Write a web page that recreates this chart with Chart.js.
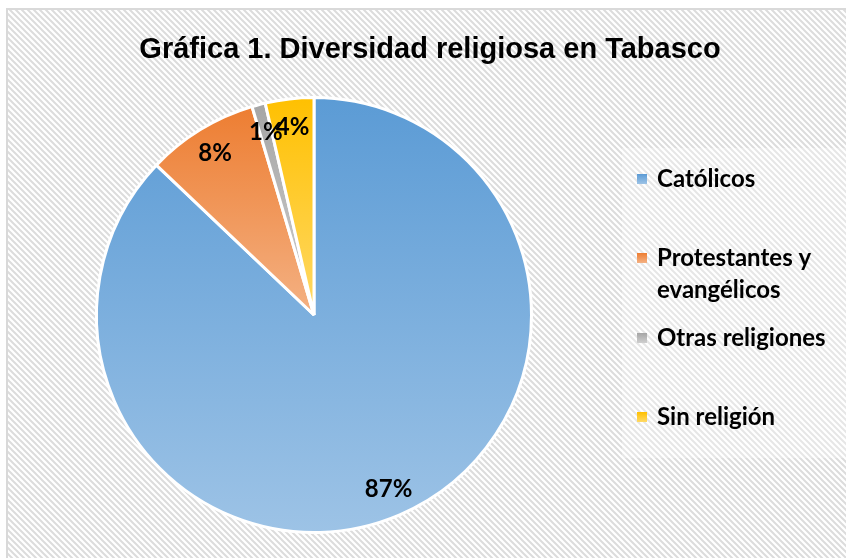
<!DOCTYPE html>
<html>
<head>
<meta charset="utf-8">
<script src="https://cdn.jsdelivr.net/npm/chart.js@4"></script>
<style>
  html, body { margin: 0; padding: 0; background: #fff; }
  #wrap { position: relative; width: 846px; height: 558px; }
</style>
</head>
<body>
<div id="wrap"><canvas id="myChart" width="846" height="558"></canvas></div>
<script>
const chartTitle = 'Gráfica 1. Diversidad religiosa en Tabasco';
const categories = ['Católicos', ['Protestantes y', 'evangélicos'], 'Otras religiones', 'Sin religión'];
const values = [87.1, 8.3, 1.0, 3.6];
const pctLabels = ['87%', '8%', '1%', '4%'];
const topColors = ['#5b9bd5', '#ed7d31', '#a5a5a5', '#ffc000'];
const bottomColors = ['#9dc3e6', '#f4b183', '#cfcfcf', '#ffd966'];

// фон с диагональной штриховкой
function stripes() {
  const p = document.createElement('canvas');
  p.width = 6; p.height = 6;
  const c = p.getContext('2d');
  c.fillStyle = '#ffffff';
  c.fillRect(0, 0, 6, 6);
  c.strokeStyle = '#dcdcdc';
  c.lineWidth = 2;
  c.beginPath();
  c.moveTo(-3, -3); c.lineTo(9, 9);
  c.moveTo(-9, -3); c.lineTo(3, 9);
  c.moveTo(3, -3); c.lineTo(15, 9);
  c.stroke();
  return p;
}

const background = {
  id: 'background',
  beforeDraw(chart) {
    const ctx = chart.ctx;
    ctx.save();
    ctx.fillStyle = ctx.createPattern(stripes(), 'repeat');
    ctx.fillRect(7, 9, 846, 558);
    // светлая подложка под легендой
    ctx.fillStyle = 'rgba(255,255,255,0.3)';
    ctx.fillRect(622, 148, 224, 310);
    ctx.strokeStyle = '#d9d9d9';
    ctx.lineWidth = 2;
    ctx.beginPath();
    ctx.moveTo(7, 558); ctx.lineTo(7, 9); ctx.lineTo(846, 9);
    ctx.stroke();
    // заголовок
    ctx.font = 'bold 29px Arial, "Liberation Sans", sans-serif';
    ctx.fillStyle = '#000';
    ctx.textAlign = 'center';
    ctx.textBaseline = 'middle';
    ctx.fillText(chartTitle, 430, 50);
    ctx.restore();
  }
};

// градиент для каждого сектора по его высоте
function sliceGradient(c) {
  const chart = c.chart;
  const area = chart.chartArea;
  const i = c.dataIndex;
  if (!area) return topColors[i];
  const cx = (area.left + area.right) / 2;
  const cy = (area.top + area.bottom) / 2;
  const r = Math.min(area.right - area.left, area.bottom - area.top) / 2;
  const total = values.reduce((a, b) => a + b, 0);
  let start = -Math.PI / 2;
  for (let k = 0; k < i; k++) start += values[k] / total * Math.PI * 2;
  const end = start + values[i] / total * Math.PI * 2;
  let yMin = cy, yMax = cy;
  for (let s = 0; s <= 60; s++) {
    const a = start + (end - start) * s / 60;
    const y = cy + Math.sin(a) * r;
    yMin = Math.min(yMin, y); yMax = Math.max(yMax, y);
  }
  const g = chart.ctx.createLinearGradient(0, yMin, 0, yMax);
  g.addColorStop(0, topColors[i]);
  g.addColorStop(1, bottomColors[i]);
  return g;
}

const sliceLabels = {
  id: 'sliceLabels',
  afterDatasetsDraw(chart) {
    const ctx = chart.ctx;
    const meta = chart.getDatasetMeta(0);
    ctx.save();
    ctx.font = 'bold 24px Lato';
    ctx.fillStyle = '#000';
    ctx.textAlign = 'center';
    ctx.textBaseline = 'middle';
    meta.data.forEach((arc, i) => {
      const mid = (arc.startAngle + arc.endAngle) / 2;
      const d = arc.outerRadius * 0.87;
      ctx.fillText(pctLabels[i], arc.x + Math.cos(mid) * d, arc.y + Math.sin(mid) * d);
    });
    ctx.restore();
  }
};

const legendY = [179, 274, 338, 417];
const sideLegend = {
  id: 'sideLegend',
  afterDraw(chart) {
    const ctx = chart.ctx;
    ctx.save();
    ctx.font = 'bold 24px Lato';
    ctx.textBaseline = 'middle';
    categories.forEach((cat, i) => {
      const lines = Array.isArray(cat) ? cat : [cat];
      const y0 = legendY[i];
      const by = lines.length > 1 ? y0 - 16 : y0;
      const g = ctx.createLinearGradient(0, by - 5, 0, by + 5);
      g.addColorStop(0, topColors[i]);
      g.addColorStop(1, bottomColors[i]);
      ctx.fillStyle = g;
      ctx.fillRect(637, by - 5, 10, 10);
      ctx.fillStyle = '#000';
      lines.forEach((t, j) => {
        ctx.fillText(t, 657, y0 + (j - (lines.length - 1) / 2) * 32);
      });
    });
    ctx.restore();
  }
};

const ctx = document.getElementById('myChart').getContext('2d');
const myChart = new Chart(ctx, {
  type: 'pie',
  data: {
    labels: categories,
    datasets: [{
      data: values,
      backgroundColor: sliceGradient,
      borderColor: '#ffffff',
      borderWidth: 3
    }]
  },
  options: {
    responsive: false,
    animation: false,
    layout: {
      padding: { top: 96, bottom: 24, left: 95, right: 313 }
    },
    plugins: {
      legend: { display: false },
      tooltip: { enabled: false },
      title: { display: false }
    }
  },
  plugins: [background, sliceLabels, sideLegend]
});
</script>
</body>
</html>
